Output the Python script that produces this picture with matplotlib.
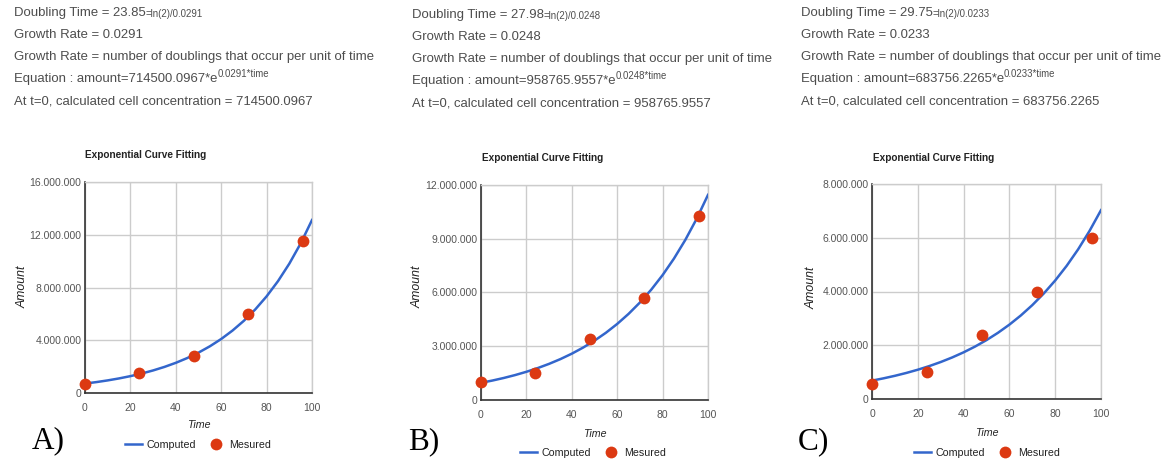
import matplotlib
matplotlib.use("Agg")
import matplotlib.pyplot as plt
from matplotlib import font_manager
from matplotlib.text import Annotation
from matplotlib.ticker import FuncFormatter, MultipleLocator

# ---------------- data ----------------
time_fit = [0, 5, 10, 15, 20, 25, 30, 35, 40, 45, 50, 55, 60, 65, 70, 75, 80, 85, 90, 95, 100]
computed_A = [714500, 826400, 955900, 1105600, 1278700, 1478900, 1710500, 1978500, 2288300, 2646700,
              3061300, 3540800, 4095200, 4736800, 5478500, 6336600, 7328900, 8476800, 9804400,
              11340000, 13116000]
computed_B = [958800, 1085300, 1228600, 1390800, 1574400, 1782300, 2017600, 2283900, 2585500, 2926800,
              3313100, 3750500, 4245600, 4806100, 5440700, 6158800, 6971800, 7892300, 8934100,
              10113600, 11448900]
computed_C = [683800, 768200, 863200, 969800, 1089600, 1224300, 1375500, 1545500, 1736500, 1951000,
              2192000, 2462900, 2767200, 3109100, 3493300, 3925000, 4409900, 4954700, 5566900,
              6254700, 7027600]
measured_time = [0, 24, 48, 72, 96]
measured_A = [700000, 1500000, 2800000, 6000000, 11500000]
measured_B = [1000000, 1500000, 3400000, 5700000, 10250000]
measured_C = [550000, 1000000, 2400000, 4000000, 6000000]

y_max = [16000000, 12000000, 8000000]
y_step = [4000000, 3000000, 2000000]
x_ticks = [0, 20, 40, 60, 80, 100]
panel_labels = ["A)", "B)", "C)"]

doubling = ["23.85", "27.98", "29.75"]
rates = ["0.0291", "0.0248", "0.0233"]
amounts = ["714500.0967", "958765.9557", "683756.2265"]

title = "Exponential Curve Fitting"
x_label = "Time"
y_label = "Amount"
legend_labels = ["Computed", "Mesured"]

# ---------------- style ----------------
W, H = 1163, 468
DPI = 100
names = {f.name for f in font_manager.fontManager.ttflist}
if "Liberation Sans Narrow" in names:
    SANS = ["Liberation Sans Narrow", "DejaVu Sans"]
    k = 1.0 / 0.82
else:
    SANS = ["Liberation Sans", "DejaVu Sans"]
    k = 1.0
SERIF = ["Liberation Serif", "DejaVu Serif"]

BLUE = "#3366cc"
RED = "#dc3912"
TXT = "#4d4d4d"

fig = plt.figure(figsize=(W / DPI, H / DPI), dpi=DPI)
fig.patch.set_facecolor("white")


def fx(px):
    return px / W


def fy(py):
    return 1 - py / H


# panel layouts in pixels
axes_px = [(85, 182, 312, 393), (481, 185, 708, 400), (872, 184, 1101, 399)]
title_px = [(85, 155), (482, 158), (873, 158)]
text_px = [(14, [13, 35, 57, 79, 101]), (412, [15, 37, 59, 81, 103]), (801, [13, 35, 57, 79, 101])]
ylab_px = [(23, 287), (418, 287), (812, 288)]
xlab_px = [(199, 425), (594, 434), (988, 433)]
leg_px = [(198, 445), (593, 453), (987, 453)]
plabel_px = [(48, 441), (424, 442), (813, 442)]

fmt = FuncFormatter(lambda v, p: f"{int(round(v)):,}".replace(",", "."))

computed_all = [computed_A, computed_B, computed_C]
measured_all = [measured_A, measured_B, measured_C]

main_fs = 9.45 * k
small_fs = 6.9 * k
chart_fs = 7.7 * k
tick_fs = 7.5 * k

for i in range(3):
    x0, y0, x1, y1 = axes_px[i]
    ax = fig.add_axes([fx(x0), fy(y1), fx(x1 - x0), (y1 - y0) / H])
    line, = ax.plot(time_fit, computed_all[i], color=BLUE, lw=1.8, zorder=3)
    pts, = ax.plot(measured_time, measured_all[i], "o", color=RED, markersize=8.5,
                   markeredgewidth=0, zorder=4, clip_on=False)
    ax.set_xlim(0, 100)
    ax.set_ylim(0, y_max[i])
    ax.set_xticks(x_ticks)
    ax.yaxis.set_major_locator(MultipleLocator(y_step[i]))
    ax.yaxis.set_major_formatter(fmt)
    ax.grid(True, color="#cccccc", lw=1.0, zorder=0)
    ax.set_axisbelow(True)
    for s in ("top", "right"):
        ax.spines[s].set_color("#cccccc")
        ax.spines[s].set_linewidth(1.0)
    for s in ("left", "bottom"):
        ax.spines[s].set_color("#333333")
        ax.spines[s].set_linewidth(1.2)
        ax.spines[s].set_zorder(2.5)
    ax.tick_params(axis="both", length=0, labelcolor="#555555", labelsize=tick_fs)
    ax.tick_params(axis="y", pad=2.5)
    ax.tick_params(axis="x", pad=7.5)
    for lab in ax.get_xticklabels() + ax.get_yticklabels():
        lab.set_family(SANS)

    # axis titles
    ax.set_xlabel(x_label, family=SANS, style="italic", fontsize=chart_fs, color="#222222")
    ax.xaxis.set_label_coords(0.5, (y1 - xlab_px[i][1]) / (y1 - y0))
    ax.xaxis.label.set_va("center")
    ax.set_ylabel(y_label, family=SANS, style="italic", fontsize=chart_fs * 1.15, color="#222222")
    ax.yaxis.set_label_coords((ylab_px[i][0] - x0) / (x1 - x0), (y1 - ylab_px[i][1]) / (y1 - y0))
    ax.yaxis.label.set_va("center")
    ax.yaxis.label.set_ha("center")

    # chart title
    fig.text(fx(title_px[i][0]), fy(title_px[i][1]), title, family=SANS, weight="bold",
             fontsize=7.2 * k, color="#222222", ha="left", va="center")

    # legend
    leg = fig.legend([line, pts], legend_labels, loc="center",
                     bbox_to_anchor=(fx(leg_px[i][0]), fy(leg_px[i][1])),
                     bbox_transform=fig.transFigure, ncol=2, frameon=False,
                     prop={"family": SANS, "size": chart_fs}, handlelength=1.6,
                     handletextpad=0.45, columnspacing=1.1, borderpad=0, borderaxespad=0)
    for t in leg.get_texts():
        t.set_color("#222222")

    # panel label
    fig.text(fx(plabel_px[i][0]), fy(plabel_px[i][1]), panel_labels[i], family=SERIF,
             fontsize=22.5, color="black", ha="center", va="center")

    # header text block
    tx, tys = text_px[i]
    t1 = fig.text(fx(tx), fy(tys[0]), f"Doubling Time = {doubling[i]}", family=SANS,
                  fontsize=main_fs, color=TXT, ha="left", va="center")
    fig.add_artist(Annotation(f"=ln(2)/{rates[i]}", xy=(1.0, 0.42), xycoords=t1,
                              family=SANS, fontsize=small_fs, color=TXT,
                              ha="left", va="center"))
    fig.text(fx(tx), fy(tys[1]), f"Growth Rate = {rates[i]}", family=SANS,
             fontsize=main_fs, color=TXT, ha="left", va="center")
    fig.text(fx(tx), fy(tys[2]), "Growth Rate = number of doublings that occur per unit of time",
             family=SANS, fontsize=main_fs, color=TXT, ha="left", va="center")
    t4 = fig.text(fx(tx), fy(tys[3]), f"Equation : amount={amounts[i]}*e", family=SANS,
                  fontsize=main_fs, color=TXT, ha="left", va="center")
    fig.add_artist(Annotation(f"{rates[i]}*time", xy=(1.0, 0.9), xycoords=t4,
                              family=SANS, fontsize=small_fs, color=TXT,
                              ha="left", va="center"))
    fig.text(fx(tx), fy(tys[4]), f"At t=0, calculated cell concentration = {amounts[i]}",
             family=SANS, fontsize=main_fs, color=TXT, ha="left", va="center")

fig.savefig("out.png", dpi=DPI, facecolor="white")
